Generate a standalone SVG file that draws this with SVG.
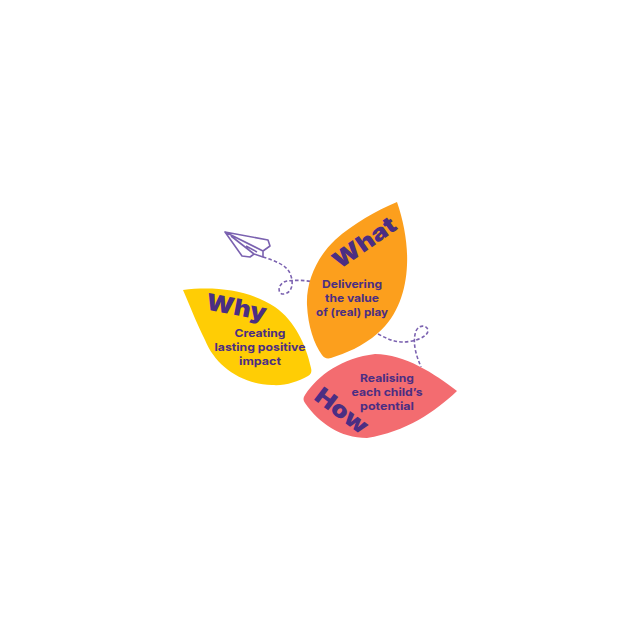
<svg xmlns="http://www.w3.org/2000/svg" width="640" height="640" viewBox="0 0 640 640">
<style>
.b{font-family:"Inter","Liberation Sans",sans-serif;font-weight:700;font-size:11px;fill:#4b2e83;text-anchor:middle}
.h{font-family:"Inter","Liberation Sans",sans-serif;font-weight:900;font-size:23px;fill:#4b2e83;text-anchor:middle}
.d{fill:none;stroke:#7b62b0;stroke-width:1.6;stroke-dasharray:3.5 2.2}
.p{fill:none;stroke:#7b62b0;stroke-width:1.6;stroke-linejoin:round}
</style>
<rect width="640" height="640" fill="#fff"/>
<g id="connectors">
<path class="d" d="M263 257C275 261 288 265 291 276C294 285 291 293 284 294C277 295 277 283 287 281C295 280 305 280 313 282"/>
<path class="d" d="M378 334C386 338 393 342 403 342C412 342 427 338 428 331C428 325 419 324 416 331C412 342 416 355 421 367"/>
</g>
<g id="plane">
<path class="p" d="M225 232L268 240L270 246L263 251L263 257L254 254L250 257L242 256ZM225 232L263 251M231 236L254 254M246 246L257 252"/>
</g>
<g id="why">
<path d="M183 290C215 286 250 290 275 307C295 321 306 345 311 368C312 372 311 374 308 376C297 382 285 386 272 385C240 384 215 365 205 340C196 322 190 306 183 290Z" fill="#ffcd05"/>
<text class="h" transform="translate(235 315) rotate(11)" textLength="61" lengthAdjust="spacingAndGlyphs">Why</text>
<text class="b" x="260" y="337" textLength="51" lengthAdjust="spacingAndGlyphs">Creating</text>
<text class="b" x="260" y="351" textLength="91" lengthAdjust="spacingAndGlyphs">lasting positive</text>
<text class="b" x="260" y="365" textLength="42" lengthAdjust="spacingAndGlyphs">impact</text>
</g>
<g id="what">
<path d="M397 202C404 222 408 245 407 265C406 290 398 316 378 333C362 347 346 353 331 358C327 359 324 358 322 355C314 344 308 326 307 305C306 280 318 256 335 240C354 223 376 211 397 202Z" fill="#fc9f1d"/>
<text class="h" transform="translate(369 249) rotate(-35)" textLength="72" lengthAdjust="spacingAndGlyphs">What</text>
<text class="b" x="352" y="288" textLength="60" lengthAdjust="spacingAndGlyphs">Delivering</text>
<text class="b" x="352" y="302" textLength="54" lengthAdjust="spacingAndGlyphs">the value</text>
<text class="b" x="352" y="316" textLength="72" lengthAdjust="spacingAndGlyphs">of (real) play</text>
</g>
<g id="how">
<path d="M305 403C303 400 303 398 305 395C318 375 342 358 375 354C405 354 435 374 457 391C435 412 405 432 367 438C340 438 319 423 305 403Z" fill="#f36c70"/>
<text class="h" transform="translate(337 417) rotate(37)" textLength="60" lengthAdjust="spacingAndGlyphs">How</text>
<text class="b" x="387" y="382" textLength="54" lengthAdjust="spacingAndGlyphs">Realising</text>
<text class="b" x="387" y="396" textLength="71" lengthAdjust="spacingAndGlyphs">each child’s</text>
<text class="b" x="387" y="410" textLength="54" lengthAdjust="spacingAndGlyphs">potential</text>
</g>
</svg>
